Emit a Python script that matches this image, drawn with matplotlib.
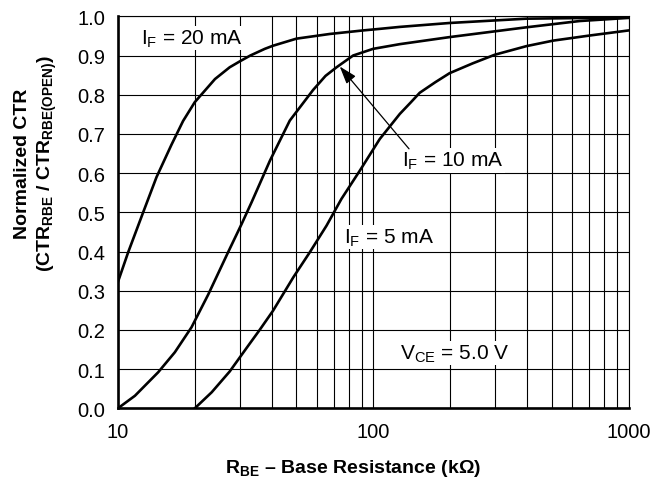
import matplotlib
matplotlib.use("Agg")
import matplotlib.pyplot as plt
from matplotlib.ticker import FixedLocator, NullFormatter

plt.rcParams['font.family'] = ['Liberation Sans', 'DejaVu Sans']
plt.rcParams['mathtext.fontset'] = 'custom'
plt.rcParams['mathtext.rm'] = 'Liberation Sans'
plt.rcParams['mathtext.it'] = 'Liberation Sans'
plt.rcParams['mathtext.bf'] = 'Liberation Sans:bold'

# curves (R_BE in kOhm, normalized CTR)
rbe_20ma = [10, 10.97, 12.56, 14.17, 16.2, 18.0, 20.0, 24.0, 27.4, 30.0, 33.0, 37.6, 40.5, 50.0,
            67.6, 91.2, 106, 127, 199, 398, 1000]
ctr_20ma = [0.322, 0.398, 0.500, 0.590, 0.672, 0.733, 0.781, 0.840, 0.870, 0.885, 0.900, 0.917,
            0.925, 0.943, 0.955, 0.964, 0.968, 0.973, 0.983, 0.994, 0.997]

rbe_10ma = [10, 11.66, 14.38, 16.71, 19.43, 22.57, 27.0, 30.5, 33.4, 39.4, 47.1, 58.1, 65.0,
            71.8, 83.4, 99.8, 127, 199, 398, 643, 1000]
ctr_10ma = [0.0, 0.032, 0.092, 0.143, 0.207, 0.290, 0.398, 0.470, 0.526, 0.632, 0.734, 0.812,
            0.848, 0.870, 0.900, 0.917, 0.929, 0.947, 0.972, 0.988, 0.996]

rbe_5ma = [20, 23.3, 27.4, 32.4, 35.9, 40.5, 48.6, 56.4, 65.6, 75.0, 88.5, 106, 127, 140, 152,
           175, 199, 245, 299, 398, 506, 703, 1000]
ctr_5ma = [0.0, 0.041, 0.094, 0.160, 0.200, 0.249, 0.334, 0.398, 0.466, 0.534, 0.606, 0.687,
           0.751, 0.780, 0.805, 0.832, 0.855, 0.880, 0.902, 0.924, 0.938, 0.951, 0.964]

x_ticks = [10, 100, 1000]
x_grid = [20, 30, 40, 50, 60, 70, 80, 90, 200, 300, 400, 500, 600, 700, 800, 900]
y_ticks = [0.0, 0.1, 0.2, 0.3, 0.4, 0.5, 0.6, 0.7, 0.8, 0.9, 1.0]

fig = plt.figure(figsize=(6.66, 4.81), dpi=100)
ax = fig.add_axes([0.177, 0.149, 0.767, 0.815])

ax.set_xscale('log')
ax.set_xlim(10, 1000)
ax.set_ylim(0, 1.0)

ax.xaxis.set_major_locator(FixedLocator(x_ticks))
ax.xaxis.set_minor_locator(FixedLocator(x_grid))
ax.xaxis.set_minor_formatter(NullFormatter())
ax.set_xticklabels([str(v) for v in x_ticks])
ax.set_yticks(y_ticks)
ax.set_yticklabels(['%.1f' % v for v in y_ticks])
ax.tick_params(which='both', length=0, labelsize=14.5)
ax.tick_params(axis='x', pad=10)
ax.tick_params(axis='y', pad=9)

ax.grid(True, which='both', color='black', lw=0.8)
ax.set_axisbelow(True)

for s in ['left', 'bottom']:
    ax.spines[s].set_linewidth(1.9)
for s in ['top', 'right']:
    ax.spines[s].set_linewidth(0.8)

for xs, ys in [(rbe_20ma, ctr_20ma), (rbe_10ma, ctr_10ma), (rbe_5ma, ctr_5ma)]:
    ax.plot(xs, ys, color='black', lw=1.9, solid_joinstyle='round', zorder=3)

box = dict(facecolor='white', edgecolor='none', pad=1.0)
ax.text(12.3, 0.945, r'I$_\mathrm{F}$ = 20 mA', fontsize=15, ha='left', va='center', bbox=box, zorder=4)
ax.text(129, 0.632, r'I$_\mathrm{F}$ = 10 mA', fontsize=15, ha='left', va='center', bbox=box, zorder=4)
ax.text(77, 0.437, r'I$_\mathrm{F}$ = 5 mA', fontsize=15, ha='left', va='center', bbox=box, zorder=4)
ax.text(127, 0.141, r'V$_\mathrm{CE}$ = 5.0 V', fontsize=15, ha='left', va='center', bbox=box, zorder=4)

ax.annotate('', xy=(73.9, 0.872), xytext=(138, 0.662),
            arrowprops=dict(arrowstyle='-|>,head_length=0.9,head_width=0.3',
                            color='black', lw=0.9, mutation_scale=12,
                            shrinkA=0, shrinkB=0), zorder=5)

fig.text(0.53, 0.027, r'R$_{\mathbf{BE}}$ – Base Resistance (kΩ)', fontsize=14,
         fontweight='bold', ha='center', va='center')
fig.text(0.034, 0.66, 'Normalized CTR', fontsize=14, fontweight='bold',
         rotation=90, ha='center', va='center')
fig.text(0.071, 0.66, r'(CTR$_{\mathbf{RBE}}$ / CTR$_{\mathbf{RBE(OPEN)}}$)', fontsize=14,
         fontweight='bold', rotation=90, ha='center', va='center')

fig.savefig('out.png', dpi=100)
